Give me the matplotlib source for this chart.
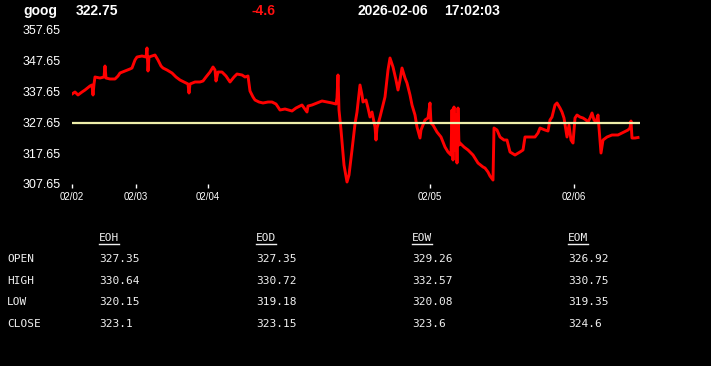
import matplotlib
matplotlib.use('Agg')
import matplotlib.pyplot as plt
from matplotlib.lines import Line2D

# minute index since start, price
idx = [0, 3, 6, 10, 13, 18, 20, 21, 22, 23, 28, 32, 33, 34, 38, 43, 46, 48, 53, 58,
       60, 63, 65, 70, 74, 75, 76, 77, 80, 83, 86, 89, 91, 95, 100, 104, 108, 112, 116, 117,
       118, 123, 128, 131, 134, 138, 141, 143, 144, 146, 150, 154, 158, 162, 165, 170, 173, 176, 178, 181,
       183, 187, 191, 196, 200, 204, 208, 213, 220, 224, 228, 230, 235, 236, 240, 245, 250, 255, 260, 264,
       265, 266, 267, 269, 272, 275, 277, 280, 283, 285, 288, 290, 291, 294, 296, 298, 300, 303, 304, 305,
       308, 313, 316, 318, 321, 324, 326, 328, 330, 333, 335, 338, 340, 343, 345, 348, 349, 353, 356, 358,
       359, 361, 365, 369, 373, 376, 379, 380, 381, 382, 383, 384, 385, 386, 387, 388, 392, 396, 401, 406,
       411, 413, 416, 418, 421, 422, 425, 428, 432, 435, 438, 443, 448, 451, 453, 458, 463, 466, 468, 473,
       476, 478, 480, 483, 485, 488, 490, 492, 495, 497, 499, 501, 503, 505, 508, 511, 514, 516, 518, 520,
       522, 524, 526, 528, 529, 531, 535, 540, 546, 550, 556, 558, 559, 560, 563, 566]
price = [336.87, 337.52, 336.55, 337.52, 338.17, 339.47, 339.79, 336.55, 340.12, 342.39, 342.06, 342.39, 345.96, 342.06, 341.74, 341.74, 342.71, 343.69, 344.34, 344.99,
         345.31, 347.91, 348.88, 349.21, 348.88, 351.81, 344.34, 348.88, 349.21, 349.53, 347.91, 345.96, 345.31, 344.66, 343.69, 342.39, 341.41, 340.77, 340.12, 337.19,
         340.12, 340.77, 340.77, 341.09, 342.39, 344.01, 345.64, 344.66, 341.09, 344.01, 344.01, 342.71, 340.77, 342.39, 343.36, 343.04, 342.39, 342.71, 337.84, 335.90,
         334.92, 334.27, 333.95, 334.27, 334.27, 333.62, 331.67, 332.00, 331.35, 332.32, 332.97, 333.30, 331.02, 332.97, 333.30, 333.95, 334.60, 334.27, 333.95, 333.62,
         335.57, 343.04, 331.67, 325.18, 313.82, 308.30, 310.57, 318.69, 327.13, 331.02, 339.79, 336.55, 334.27, 334.92, 332.32, 329.40, 331.02, 326.15, 321.93, 325.83,
         329.40, 335.90, 344.66, 348.56, 345.64, 341.41, 338.17, 341.41, 345.31, 342.06, 340.44, 336.55, 333.30, 330.05, 326.15, 322.58, 325.18, 328.43, 329.08, 333.95,
         327.45, 326.80, 324.53, 322.91, 319.66, 318.04, 317.06, 331.67, 315.44, 332.65, 318.69, 330.05, 314.46, 332.32, 320.31, 320.96, 319.66, 318.69, 317.06, 314.46,
         313.17, 312.84, 311.54, 310.24, 308.94, 325.83, 325.18, 322.91, 321.93, 321.93, 318.04, 317.06, 318.04, 318.69, 322.91, 322.91, 322.91, 324.21, 325.83, 325.18,
         324.86, 328.43, 329.40, 333.30, 333.95, 332.32, 331.02, 329.08, 322.91, 326.80, 321.93, 320.96, 329.08, 330.05, 329.40, 329.08, 328.43, 327.78, 329.08, 330.70,
         328.43, 327.78, 330.05, 321.93, 317.71, 321.93, 322.91, 323.56, 323.56, 324.21, 325.18, 325.83, 328.10, 322.58, 322.58, 322.75]

prev_close = 327.35
tick_idx = [0, 64, 136, 358, 502]
tick_lbl = ['02/02', '02/03', '02/04', '02/05', '02/06']
y_ticks = [307.65, 317.65, 327.65, 337.65, 347.65, 357.65]

symbol = 'goog'
last = '322.75'
change = '-4.6'
date_str = '2026-02-06'
time_str = '17:02:03'

cols = ['EOH', 'EOD', 'EOW', 'EOM']
rows = ['OPEN', 'HIGH', 'LOW', 'CLOSE']
table = [['327.35', '327.35', '329.26', '326.92'],
         ['330.64', '330.72', '332.57', '330.75'],
         ['320.15', '319.18', '320.08', '319.35'],
         ['323.1', '323.15', '323.6', '324.6']]

W, H = 711, 366
fig = plt.figure(figsize=(W / 100, H / 100), dpi=100, facecolor='black')
ax = fig.add_axes([72 / W, 1 - 184 / H, 568 / W, 154 / H])
ax.set_facecolor('black')

ax.plot(idx, price, color='#ff0000', lw=2.1)
ax.axhline(prev_close, color='#eeeeaa', lw=1.6)
ax.set_xlim(0, 568)
ax.set_ylim(307.65, 357.65)

for s in ax.spines.values():
    s.set_visible(False)
ax.set_yticks(y_ticks)
ax.set_yticklabels(['%.2f' % v for v in y_ticks])
ax.set_xticks(tick_idx)
ax.set_xticklabels(tick_lbl)
ax.tick_params(axis='y', length=0, pad=8, labelcolor='white', labelsize=9)
ax.tick_params(axis='x', length=3, width=1, color='white', pad=3, labelcolor='white', labelsize=7)
for t in ax.get_xticklabels() + ax.get_yticklabels():
    t.set_family('Liberation Sans')

# header
hy = 1 - 15 / H
hdr = dict(fontsize=10, fontweight='bold', family='Liberation Sans', va='baseline')
fig.text(23 / W, hy, symbol, color='white', **hdr)
fig.text(76 / W, hy, last, color='white', **hdr)
fig.text(251 / W, hy, change, color='#ff1010', **hdr)
fig.text(358 / W, hy, date_str, color='white', **hdr)
fig.text(444 / W, hy, time_str, color='white', **hdr)

# OHLC table
mono = dict(fontsize=8, family='DejaVu Sans Mono', color='#f0f0f0', va='center')
col_x = [99, 256, 412, 568]
row_y = [259, 281, 302, 324]
heads = []
for c, cx in zip(cols, col_x):
    heads.append(fig.text(cx / W, 1 - 238 / H, c, **mono))
for r, ry in zip(rows, row_y):
    fig.text(7 / W, 1 - ry / H, r, **mono)
for i, ry in enumerate(row_y):
    for j, cx in enumerate(col_x):
        fig.text(cx / W, 1 - ry / H, table[i][j], **mono)

fig.canvas.draw()
r = fig.canvas.get_renderer()
for t in heads:
    bb = t.get_window_extent(r)
    uy = 1 - 243.5 / H
    fig.add_artist(Line2D([bb.x0 / W, bb.x1 / W], [uy, uy], color='#f0f0f0', lw=1))

fig.savefig('out.png', dpi=100, facecolor='black')
